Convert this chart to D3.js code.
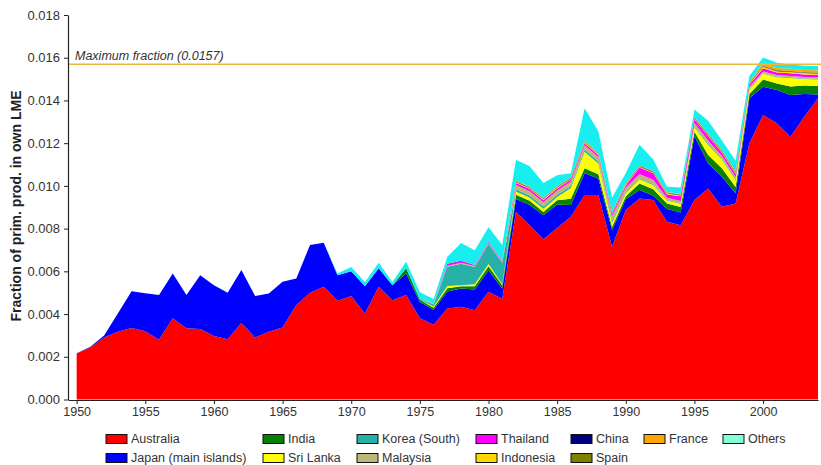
<!DOCTYPE html>
<html>
<head>
<meta charset="utf-8">
<script src="https://cdn.jsdelivr.net/npm/d3@7"></script>
<style>
  body { margin: 0; background: #fff; }
  svg { display: block; font-family: "Liberation Sans", Arial, sans-serif; }
</style>
</head>
<body>
<svg id="chart" width="821" height="465"></svg>
<script>
// Fraction of primary production in own LME, by fishing country, 1950-2004
const years = d3.range(1950, 2005);

const australia = [
  0.00215, 0.00244, 0.0029, 0.00317, 0.00335, 0.0032, 0.0028, 0.0038, 0.00333, 0.0033,
  0.00297, 0.00282, 0.00358, 0.0029, 0.00317, 0.00337, 0.00442, 0.005, 0.00528, 0.00462,
  0.00484, 0.00403, 0.00528, 0.00465, 0.00489, 0.0038, 0.0035, 0.00426, 0.00434, 0.00418,
  0.00504, 0.0047, 0.00879, 0.00816, 0.0075, 0.00803, 0.00855, 0.00957, 0.00957, 0.00715,
  0.00887, 0.00941, 0.00934, 0.00832, 0.00816, 0.00934, 0.00988, 0.00902, 0.00918, 0.012,
  0.01332, 0.01293, 0.0123, 0.01324, 0.0141
];
const japan = [
  0.00001, 0.00003, 0.0001, 0.00086, 0.00172, 0.00177, 0.00209, 0.0021, 0.00156, 0.00252,
  0.00238, 0.00218, 0.00248, 0.00194, 0.00179, 0.00214, 0.00125, 0.00223, 0.00206, 0.0012,
  0.00116, 0.00127, 0.00087, 0.0007, 0.00101, 0.00077, 0.0007, 0.0008, 0.00086, 0.00097,
  0.001, 0.0005, 0.0006, 0.00094, 0.00113, 0.0011, 0.00055, 0.00102, 0.00078, 0.00078,
  0.0005, 0.0004, 0.0002, 0.0006, 0.0006, 0.003, 0.00117, 0.00141, 0.00047, 0.0021,
  0.00132, 0.00156, 0.00195, 0.00106, 0.00018
];
const india = [
  0, 0, 0, 0, 0, 0, 0, 0, 0, 0,
  0, 0, 0, 0, 0, 0, 0, 0, 0, 0,
  0, 0, 0, 0, 0.00025, 0.0001, 0.0001, 0.00015, 0.0001, 0.00015,
  0.0002, 0.00015, 0.0002, 0.0002, 0.00015, 0.0002, 0.0003, 0.00023, 0.0002, 0.00015,
  0.00015, 0.0003, 0.0003, 0.00025, 0.00025, 0.0002, 0.0004, 0.0004, 0.0003, 0.0002,
  0.00034, 0.0003, 0.0004, 0.0004, 0.0004
];
const sriLanka = [
  0, 0, 0, 0, 0, 0, 0, 0, 0, 0,
  0, 0, 0, 0, 0, 0, 0, 0, 0, 0,
  0, 0, 0, 0, 0, 0, 0.00005, 0.0001, 0.00005, 0.0001,
  0.0001, 0.00005, 0.00015, 0.00015, 0.00015, 0.00015, 0.0005, 0.00078, 0.0005, 0.0002,
  0.00015, 0.0002, 0.0002, 0.00015, 0.00015, 0.0002, 0.00047, 0.0004, 0.0003, 0.0002,
  0.00028, 0.0003, 0.0004, 0.0003, 0.0003
];
const korea = [
  0, 0, 0, 0, 0, 0, 0, 0, 0, 0,
  0, 0, 0, 0, 0, 0, 0, 0, 0, 0,
  0, 0, 0, 0, 0, 0.00005, 0.0001, 0.0009, 0.001, 0.0008,
  0.00095, 0.001, 0.0001, 0.0001, 0.0001, 0.0001, 0.0001, 0.0001, 0.0001, 0.0001,
  0.00005, 0.00005, 0.00005, 0.00003, 0.00003, 0.00005, 0.00005, 0.00005, 0.00005, 0.00003,
  0.00003, 0.00003, 0.00003, 0.00003, 0.00003
];
const malaysia = [
  0, 0, 0, 0, 0, 0, 0, 0, 0, 0,
  0, 0, 0, 0, 0, 0, 0, 0, 0, 0,
  0, 0, 0, 0, 0, 0, 0.00005, 0.00005, 0.00005, 0.00005,
  0.00005, 0.00005, 0.0002, 0.0002, 0.0002, 0.0002, 0.0002, 0.0002, 0.0002, 0.0002,
  0.0002, 0.0002, 0.0002, 0.0001, 0.0001, 0.00015, 0.00015, 0.00012, 0.0001, 0.0001,
  0.00007, 0.00007, 0.00007, 0.00007, 0.00007
];
const thailand = [
  0, 0, 0, 0, 0, 0, 0, 0, 0, 0,
  0, 0, 0, 0, 0, 0, 0, 0, 0, 0,
  0, 0, 0, 0, 0, 0, 0, 0.0001, 0.0001, 0.00005,
  0.00005, 0.00005, 0.0001, 0.0001, 0.0001, 0.0001, 0.0001, 0.0001, 0.0001, 0.0001,
  0.0001, 0.0003, 0.0003, 0.00015, 0.00022, 0.00018, 0.0002, 0.00015, 0.00015, 0.0001,
  0.00015, 0.00012, 0.00012, 0.00012, 0.00012
];
const indonesia = [
  0, 0, 0, 0, 0, 0, 0, 0, 0, 0,
  0, 0, 0, 0, 0, 0, 0, 0, 0, 0,
  0, 0, 0, 0, 0, 0, 0, 0, 0, 0,
  0, 0, 0.00004, 0.00004, 0.00004, 0.00004, 0.00004, 0.00004, 0.00004, 0.00004,
  0.00004, 0.00004, 0.00004, 0.00004, 0.00004, 0.00004, 0.00004, 0.00004, 0.00004, 0.00004,
  0.00008, 0.00006, 0.00006, 0.00006, 0.00006
];
const china = [
  0, 0, 0, 0, 0, 0, 0, 0, 0, 0,
  0, 0, 0, 0, 0, 0, 0, 0, 0, 0,
  0, 0, 0, 0, 0, 0, 0, 0, 0, 0,
  0, 0, 0.00002, 0.00002, 0.00002, 0.00002, 0.00002, 0.00002, 0.00002, 0.00002,
  0.00002, 0.00002, 0.00002, 0.00002, 0.00002, 0.00002, 0.00002, 0.00002, 0.00002, 0.00002,
  0.00002, 0.00002, 0.00002, 0.00002, 0.00002
];
const spain = [
  0, 0, 0, 0, 0, 0, 0, 0, 0, 0,
  0, 0, 0, 0, 0, 0, 0, 0, 0, 0,
  0, 0, 0, 0, 0, 0, 0, 0, 0, 0,
  0, 0, 0.00003, 0.00003, 0.00003, 0.00003, 0.00003, 0.00003, 0.00003, 0.00003,
  0.00003, 0.00003, 0.00003, 0.00003, 0.00003, 0.00003, 0.00005, 0.00005, 0.00005, 0.00003,
  0.00003, 0.00003, 0.00003, 0.00003, 0.00003
];
const france = [
  0, 0, 0, 0, 0, 0, 0, 0, 0, 0,
  0, 0, 0, 0, 0, 0, 0, 0, 0, 0,
  0, 0, 0, 0, 0, 0, 0, 0, 0, 0,
  0, 0, 0.00002, 0.00002, 0.00002, 0.00002, 0.00002, 0.00002, 0.00002, 0.00002,
  0.00002, 0.00002, 0.00002, 0.00002, 0.00002, 0.00002, 0.00002, 0.00002, 0.00002, 0.00002,
  0.00012, 0.0001, 0.0001, 0.0001, 0.0001
];
const others = [
  0, 0, 0, 0, 0, 0, 0, 0, 0, 0,
  0, 0, 0, 0, 0, 0, 0, 0, 0, 0.00008,
  0.0002, 0.0002, 0.00025, 0.00015, 0.0003, 0.0003, 0.0002, 0.00032, 0.00083, 0.00069,
  0.00067, 0.00073, 0.00097, 0.00096, 0.0007, 0.00051, 0.00018, 0.00152, 0.001, 0.00065,
  0.00047, 0.00096, 0.00053, 0.00025, 0.0003, 0.00035, 0.0006, 0.00045, 0.0005, 0.0003,
  0.00025, 0.00025, 0.0002, 0.0002, 0.0002
];

const maxFraction = 0.0157;
const yTicks = d3.range(0, 0.0181, 0.002);
const xTicks = d3.range(1950, 2001, 5);

// Stacking order, bottom to top
const series = [
  { key: "Australia", label: "Australia", values: australia, fill: "#ff0000", swatch: "#ff0000" },
  { key: "Japan", label: "Japan (main islands)", values: japan, fill: "#0000ff", swatch: "#0000ff" },
  { key: "India", label: "India", values: india, fill: "#078007", swatch: "#078007" },
  { key: "SriLanka", label: "Sri Lanka", values: sriLanka, fill: "#ffff00", swatch: "#ffff00" },
  { key: "Korea", label: "Korea (South)", values: korea, fill: "#26b0a8", swatch: "#26b0a8" },
  { key: "Malaysia", label: "Malaysia", values: malaysia, fill: "#c4b27c", swatch: "#bdb77c" },
  { key: "Thailand", label: "Thailand", values: thailand, fill: "#ff00ff", swatch: "#ff00ff" },
  { key: "Indonesia", label: "Indonesia", values: indonesia, fill: "#ffd700", swatch: "#ffd700" },
  { key: "China", label: "China", values: china, fill: "#000080", swatch: "#000080" },
  { key: "Spain", label: "Spain", values: spain, fill: "#808000", swatch: "#808000" },
  { key: "France", label: "France", values: france, fill: "#ffa500", swatch: "#ffa500" },
  { key: "Others", label: "Others", values: others, fill: "#16eef0", swatch: "#80ffd8" }
];

// Legend grid: columns of up to two entries
const legendColumns = [
  ["Australia", "Japan"],
  ["India", "SriLanka"],
  ["Korea", "Malaysia"],
  ["Thailand", "Indonesia"],
  ["China", "Spain"],
  ["France"],
  ["Others"]
];
const legendColumnX = [106, 263, 357, 476, 571, 644, 723];
const legendRowY = [439, 458];

const rows = years.map((year, i) => {
  const row = { year };
  series.forEach(s => { row[s.key] = s.values[i]; });
  return row;
});

const svg = d3.select("#chart");
const x = d3.scaleLinear().domain([1949.37, 2004]).range([68, 818]);
const y = d3.scaleLinear().domain([0, 0.018]).range([399.5, 15]);

const stacked = d3.stack().keys(series.map(s => s.key))(rows);
const area = d3.area()
  .x(d => x(d.data.year))
  .y0(d => y(d[0]))
  .y1(d => y(d[1]));

svg.append("g")
  .selectAll("path")
  .data(stacked)
  .join("path")
  .attr("d", area)
  .attr("fill", (d, i) => series[i].fill);

// Reference line for the maximum fraction
svg.append("line")
  .attr("x1", 68).attr("x2", 821)
  .attr("y1", y(maxFraction)).attr("y2", y(maxFraction))
  .attr("stroke", "#f0b838")
  .attr("stroke-width", 1.5);
svg.append("text")
  .attr("x", 75).attr("y", y(maxFraction) - 4)
  .attr("font-size", 12.5)
  .attr("font-style", "italic")
  .attr("fill", "#333")
  .text(`Maximum fraction (${maxFraction})`);

// Axes
const yAxis = svg.append("g")
  .attr("transform", "translate(68,0)")
  .call(d3.axisLeft(y).tickValues(yTicks).tickFormat(d3.format(".3f"))
    .tickSize(4).tickSizeOuter(0).tickPadding(4));
yAxis.selectAll("text").attr("font-size", 13).attr("fill", "#333");

const xAxis = svg.append("g")
  .attr("transform", `translate(0,${y(0) + 0.5})`)
  .call(d3.axisBottom(x).tickValues(xTicks).tickFormat(d3.format("d"))
    .tickSize(4).tickSizeOuter(0).tickPadding(3));
xAxis.selectAll("text").attr("font-size", 12.5).attr("fill", "#333");

[yAxis, xAxis].forEach(g => {
  g.select(".domain").attr("stroke", "#222").attr("stroke-width", 1.2);
  g.selectAll(".tick line").attr("stroke", "#222");
});

svg.append("text")
  .attr("transform", "translate(16,206) rotate(-90)")
  .attr("text-anchor", "middle")
  .attr("dominant-baseline", "central")
  .attr("font-size", 14)
  .attr("font-weight", "bold")
  .attr("fill", "#222")
  .text("Fraction of prim. prod. in own LME");

// Legend
const byKey = new Map(series.map(s => [s.key, s]));
const legend = svg.append("g");
legendColumns.forEach((col, ci) => {
  col.forEach((key, ri) => {
    const s = byKey.get(key);
    const g = legend.append("g")
      .attr("transform", `translate(${legendColumnX[ci]},${legendRowY[ri]})`);
    g.append("rect")
      .attr("x", 0).attr("y", -4.5)
      .attr("width", 21).attr("height", 9)
      .attr("fill", s.swatch)
      .attr("stroke", "#111")
      .attr("stroke-width", 1);
    g.append("text")
      .attr("x", 25).attr("y", 0)
      .attr("dominant-baseline", "central")
      .attr("font-size", 12.5)
      .attr("fill", "#333")
      .text(s.label);
  });
});
</script>
</body>
</html>
